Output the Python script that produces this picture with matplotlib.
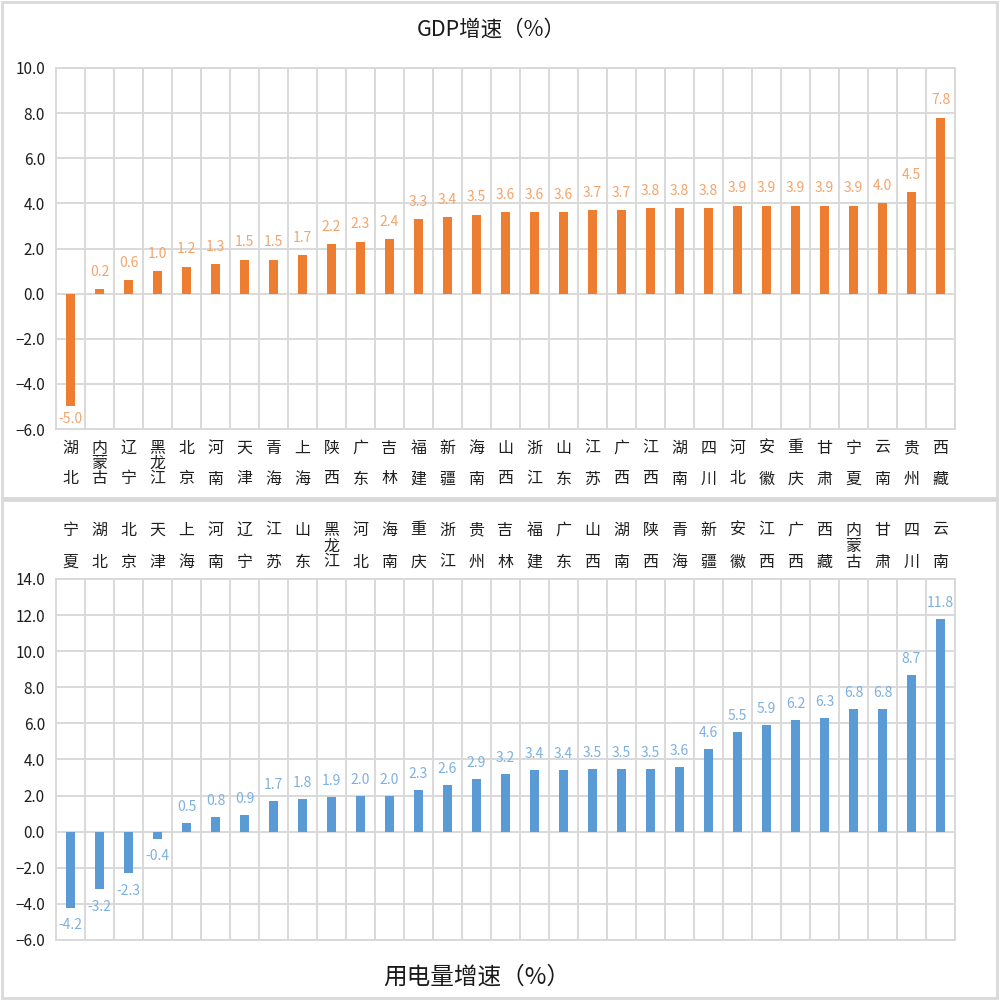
import matplotlib
matplotlib.use("Agg")
import matplotlib.pyplot as plt
import matplotlib.transforms as mtransforms
from matplotlib.patches import Rectangle
import numpy as np

plt.rcParams['font.family'] = ['Noto Sans CJK SC', 'DejaVu Sans']

gdp_regions = ["湖北", "内蒙古", "辽宁", "黑龙江", "北京", "河南", "天津", "青海", "上海", "陕西",
               "广东", "吉林", "福建", "新疆", "海南", "山西", "浙江", "山东", "江苏", "广西",
               "江西", "湖南", "四川", "河北", "安徽", "重庆", "甘肃", "宁夏", "云南", "贵州", "西藏"]
gdp_growth = [-5.0, 0.2, 0.6, 1.0, 1.2, 1.3, 1.5, 1.5, 1.7, 2.2,
              2.3, 2.4, 3.3, 3.4, 3.5, 3.6, 3.6, 3.6, 3.7, 3.7,
              3.8, 3.8, 3.8, 3.9, 3.9, 3.9, 3.9, 3.9, 4.0, 4.5, 7.8]

elec_regions = ["宁夏", "湖北", "北京", "天津", "上海", "河南", "辽宁", "江苏", "山东", "黑龙江",
                "河北", "海南", "重庆", "浙江", "贵州", "吉林", "福建", "广东", "山西", "湖南",
                "陕西", "青海", "新疆", "安徽", "江西", "广西", "西藏", "内蒙古", "甘肃", "四川", "云南"]
elec_growth = [-4.2, -3.2, -2.3, -0.4, 0.5, 0.8, 0.9, 1.7, 1.8, 1.9,
               2.0, 2.0, 2.3, 2.6, 2.9, 3.2, 3.4, 3.4, 3.5, 3.5,
               3.5, 3.6, 4.6, 5.5, 5.9, 6.2, 6.3, 6.8, 6.8, 8.7, 11.8]

gdp_ticks = [-6, -4, -2, 0, 2, 4, 6, 8, 10]
elec_ticks = [-6, -4, -2, 0, 2, 4, 6, 8, 10, 12, 14]

W, H = 999, 1000
fig = plt.figure(figsize=(W / 100, H / 100), dpi=100)

GRID = '#D9D9D9'


def fx(px):
    return px / W


def fy(py):
    return 1 - py / H


def style_axes(ax, n, ticks):
    ax.set_xlim(-0.5, n - 0.5)
    ax.set_ylim(ticks[0], ticks[-1])
    ax.set_yticks(ticks)
    ax.set_yticklabels([f"{t:.1f}".replace('-', '\u2212') for t in ticks], fontsize=11, color='#1f1f1f')
    ax.set_xticks(np.arange(-0.5, n, 1.0))
    ax.set_xticklabels([])
    ax.tick_params(axis='both', length=0, pad=8)
    ax.grid(True, color=GRID, linewidth=1.4)
    ax.set_axisbelow(True)
    for s in ax.spines.values():
        s.set_color(GRID)
        s.set_linewidth(1.4)


def draw_bars(ax, values, color, label_color, pos_off, neg_off):
    x = np.arange(len(values))
    ax.bar(x, values, width=0.34, color=color, zorder=3)
    for xi, v in zip(x, values):
        off = pos_off if v >= 0 else -neg_off
        ax.annotate(f"{v:.1f}", (xi, v), xytext=(0, off), textcoords='offset points',
                    ha='center', va='center', fontsize=10, color=label_color)


def draw_labels(ax, names, y_top_px, y_bot_px):
    trans = mtransforms.blended_transform_factory(ax.transData, fig.transFigure)
    for i, name in enumerate(names):
        k = len(name)
        ys = np.linspace(y_top_px, y_bot_px, k)
        for ch, yp in zip(name, ys):
            ax.text(i, fy(yp), ch, transform=trans, ha='center', va='center',
                    fontsize=11.5, color='#1f1f1f')


# Top chart
ax1 = fig.add_axes([fx(56), fy(429), fx(955 - 56), (429 - 68) / H])
style_axes(ax1, len(gdp_regions), gdp_ticks)
draw_bars(ax1, gdp_growth, '#ED7D31', '#F4A46A', 12.5, 9)
draw_labels(ax1, gdp_regions, 448, 479)
fig.text(fx(491), fy(30), "GDP增速（%）", ha='center', va='center', fontsize=15.5, color='#1a1a1a')

# Bottom chart
ax2 = fig.add_axes([fx(56), fy(940), fx(955 - 56), (940 - 579) / H])
style_axes(ax2, len(elec_regions), elec_ticks)
draw_bars(ax2, elec_growth, '#5B9BD5', '#7EB0E0', 11.5, 12.5)
draw_labels(ax2, elec_regions, 530, 562)
fig.text(fx(477), fy(977), "用电量增速（%）", ha='center', va='center', fontsize=17, color='#1a1a1a')

# Panel borders
for (x0, y0, x1, y1) in [(2, 2, 997, 498), (2, 500, 997, 998)]:
    fig.add_artist(Rectangle((fx(x0), fy(y1)), fx(x1 - x0), (y1 - y0) / H,
                             transform=fig.transFigure, fill=False, edgecolor=GRID, linewidth=2))

fig.savefig("out.png", dpi=100)
